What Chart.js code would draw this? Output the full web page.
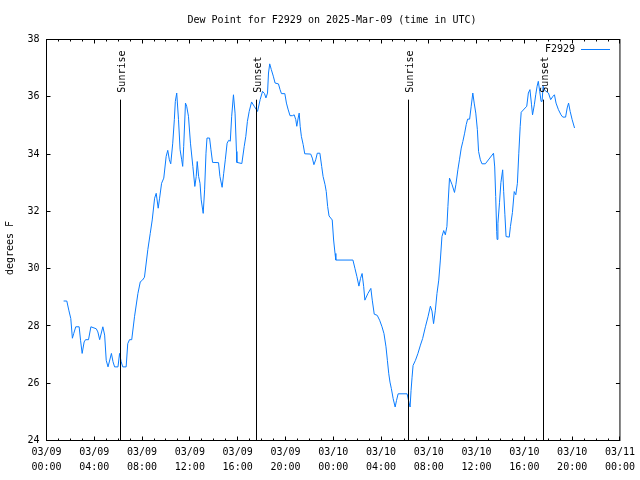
<!DOCTYPE html>
<html>
<head>
<meta charset="utf-8">
<title>Dew Point for F2929</title>
<script src="https://cdn.jsdelivr.net/npm/chart.js@4/dist/chart.umd.min.js"></script>
<style>
    html, body { margin: 0; padding: 0; background: #fff; }
    #wrap { width: 640px; height: 480px; }
</style>
</head>
<body>
<div id="wrap"><canvas id="dewChart" width="640" height="480"></canvas></div>
<script>
// minutes since 03/09 00:00 UTC
const sampleMinutes = [
    86, 102, 112, 122, 130, 137, 147, 164, 171, 179, 189, 196, 211, 223, 250, 258, 267, 283, 292, 300,
    309, 326, 334, 342, 359, 367, 375, 383, 400, 408, 417, 428, 442, 459, 471, 482, 492, 509, 521, 531,
    543, 551, 561, 568, 578, 589, 601, 609, 617, 624, 634, 642, 647, 654, 663, 671, 679, 684, 689, 698,
    704, 713, 723, 735, 745, 752, 757, 764, 771, 777, 787, 794, 801, 806, 819, 826, 834, 864, 871, 882,
    890, 898, 907, 915, 923, 930, 939, 947, 954, 956, 981, 993, 1001, 1009, 1018, 1030, 1043, 1060, 1073, 1085,
    1095, 1102, 1110, 1115, 1121, 1129, 1139, 1148, 1165, 1173, 1180, 1197, 1205, 1213, 1223, 1235, 1244, 1252, 1257, 1264,
    1269, 1274, 1280, 1289, 1297, 1327, 1335, 1343, 1352, 1360, 1373, 1382, 1389, 1399, 1405, 1412, 1419, 1435, 1442, 1449,
    1453, 1539, 1549, 1559, 1569, 1577, 1585, 1593, 1599, 1614, 1629, 1636, 1646, 1661, 1673, 1685, 1695, 1705, 1712, 1719,
    1725, 1732, 1741, 1751, 1758, 1766, 1811, 1820, 1826, 1831, 1836, 1841, 1853, 1865, 1878, 1889, 1903, 1916, 1928, 1936,
    1944, 1953, 1961, 1970, 1978, 1986, 1995, 2003, 2011, 2016, 2024, 2037, 2049, 2056, 2066, 2074, 2083, 2091, 2100, 2108,
    2115, 2125, 2133, 2141, 2148, 2156, 2164, 2170, 2179, 2187, 2204, 2245, 2251, 2256, 2261, 2263, 2267, 2275, 2282, 2291,
    2296, 2302, 2308, 2324, 2330, 2340, 2349, 2357, 2365, 2372, 2379, 2384, 2404, 2412, 2420, 2428, 2436, 2441, 2450, 2457,
    2464, 2470, 2477, 2484, 2489, 2494, 2500, 2509, 2521, 2532, 2544, 2551, 2559, 2571, 2584, 2593, 2607, 2615, 2622, 2630,
    2640, 2652
];

const dewPointF = [
    28.87, 28.87, 28.55, 28.26, 27.57, 27.74, 27.97, 27.97, 27.5, 27.04, 27.44, 27.52, 27.52, 27.97, 27.9, 27.79, 27.52, 27.97, 27.68, 26.8,
    26.57, 27.04, 26.75, 26.57, 26.57, 27.04, 26.75, 26.57, 26.57, 27.38, 27.52, 27.52, 28.32, 29.13, 29.54, 29.6, 29.7, 30.67, 31.23, 31.7,
    32.46, 32.63, 32.11, 32.46, 32.98, 33.16, 33.92, 34.13, 33.8, 33.66, 34.38, 35.2, 35.84, 36.13, 35.2, 34.15, 33.8, 33.57, 34.27, 35.78,
    35.67, 35.32, 34.38, 33.57, 32.87, 33.22, 33.74, 33.22, 32.98, 32.4, 31.93, 32.75, 34.03, 34.56, 34.56, 34.15, 33.71, 33.7, 33.22, 32.84,
    33.33, 33.8, 34.38, 34.48, 34.45, 35.32, 36.07, 35.43, 34.09, 33.71, 33.67, 34.27, 34.62, 35.14, 35.49, 35.82, 35.67, 35.49, 35.9, 36.19,
    36.11, 35.96, 36.13, 36.83, 37.15, 36.95, 36.72, 36.48, 36.45, 36.25, 36.11, 36.11, 35.78, 35.57, 35.34, 35.34, 35.37, 35.2, 34.97, 35.26,
    35.43, 34.97, 34.62, 34.33, 34.01, 34.0, 33.86, 33.63, 33.8, 34.03, 34.03, 33.57, 33.22, 32.93, 32.69, 32.17, 31.84, 31.7, 31.0, 30.53,
    30.3, 30.3, 30.01, 29.72, 29.39, 29.66, 29.83, 29.37, 28.9, 29.13, 29.31, 28.9, 28.41, 28.37, 28.2, 27.97, 27.73, 27.27, 26.8, 26.33,
    26.04, 25.81, 25.46, 25.17, 25.4, 25.63, 25.63, 25.34, 25.17, 25.75, 26.21, 26.62, 26.8, 27.03, 27.33, 27.56, 27.97, 28.32, 28.69, 28.52,
    28.08, 28.55, 29.13, 29.6, 30.3, 31.12, 31.33, 31.18, 31.47, 32.17, 33.16, 32.93, 32.66, 32.93, 33.45, 33.8, 34.21, 34.44, 34.73, 35.03,
    35.22, 35.22, 35.67, 36.13, 35.78, 35.43, 34.85, 34.09, 33.8, 33.66, 33.66, 34.03, 33.55, 32.52, 31.3, 31.02, 31.58, 32.3, 33.0, 33.45,
    32.7, 31.9, 31.12, 31.1, 31.47, 31.96, 32.69, 32.58, 32.98, 34.03, 34.97, 35.46, 35.61, 35.67, 36.13, 36.25, 35.72, 35.37, 35.72, 36.07,
    36.37, 36.54, 36.19, 35.84, 35.84, 36.37, 36.25, 36.19, 36.13, 35.9, 36.02, 36.07, 35.78, 35.55, 35.37, 35.29, 35.29, 35.61, 35.78, 35.49,
    35.2, 34.91
];

const sunEventMinutes = [374, 1055, 1816, 2497];
const sunEventLabels = ['Sunrise', 'Sunset', 'Sunrise', 'Sunset'];
const tickDates = ['03/09', '03/10', '03/11'];

const FONT = '10px "DejaVu Sans Mono", monospace';

// gnuplot-ish frame, mirrored inward ticks, title, legend and sun markers
const framePlugin = {
    id: 'frame',
    afterDatasetsDraw(chart) {
        const ctx = chart.ctx;
        const area = chart.chartArea;
        const xs = chart.scales.x;
        const ys = chart.scales.y;
        const snap = v => Math.round(v - 0.5) + 0.5;

        ctx.save();
        ctx.strokeStyle = '#000';
        ctx.lineWidth = 1;

        // sunrise / sunset markers
        ctx.fillStyle = '#000';
        ctx.font = FONT;
        sunEventMinutes.forEach((m, i) => {
            const x = snap(xs.getPixelForValue(m));
            const yTop = ys.getPixelForValue(35.9);
            ctx.beginPath();
            ctx.moveTo(x, ys.getPixelForValue(24));
            ctx.lineTo(x, yTop);
            ctx.stroke();
            ctx.save();
            ctx.translate(x + 4, yTop - 7);
            ctx.rotate(-Math.PI / 2);
            ctx.textAlign = 'left';
            ctx.textBaseline = 'alphabetic';
            ctx.fillText(sunEventLabels[i], 0, 0);
            ctx.restore();
        });

        // border
        ctx.strokeRect(area.left, area.top, area.right - area.left, area.bottom - area.top);

        // x ticks: major every 4h, minor every hour
        ctx.beginPath();
        for (let m = 0; m <= 2880; m += 60) {
            const x = snap(xs.getPixelForValue(m));
            const len = (m % 240 === 0) ? 4 : 2;
            ctx.moveTo(x, area.bottom);
            ctx.lineTo(x, area.bottom - len);
            ctx.moveTo(x, area.top);
            ctx.lineTo(x, area.top + len);
        }
        // y ticks
        ys.ticks.forEach(t => {
            const y = snap(ys.getPixelForValue(t.value));
            ctx.moveTo(area.left, y);
            ctx.lineTo(area.left + 4, y);
            ctx.moveTo(area.right, y);
            ctx.lineTo(area.right - 4, y);
        });
        ctx.stroke();

        // title
        ctx.textAlign = 'center';
        ctx.textBaseline = 'middle';
        ctx.fillText('Dew Point for F2929 on 2025-Mar-09 (time in UTC)', 332, 20);

        // y axis label
        ctx.save();
        ctx.translate(10, 248);
        ctx.rotate(-Math.PI / 2);
        ctx.fillText('degrees F', 0, 0);
        ctx.restore();

        // legend
        ctx.textAlign = 'right';
        ctx.fillText('F2929', 575, 49);
        ctx.strokeStyle = '#0a7cff';
        ctx.beginPath();
        ctx.moveTo(581, 49.5);
        ctx.lineTo(610, 49.5);
        ctx.stroke();

        ctx.restore();
    }
};

const points = sampleMinutes.map((m, i) => ({ x: m, y: dewPointF[i] }));

new Chart(document.getElementById('dewChart'), {
    type: 'line',
    data: {
        datasets: [{
            label: 'F2929',
            data: points,
            borderColor: '#0a7cff',
            borderWidth: 1,
            pointRadius: 0,
            tension: 0,
            fill: false
        }]
    },
    options: {
        responsive: false,
        animation: false,
        events: [],
        layout: {
            padding: { top: 39.5, right: 18.5, bottom: 0, left: 0 }
        },
        plugins: {
            legend: { display: false },
            title: { display: false },
            tooltip: { enabled: false }
        },
        scales: {
            x: {
                type: 'linear',
                min: 0,
                max: 2880,
                afterFit: s => { s.height = 39.5; },
                border: { display: false },
                grid: { display: false, drawTicks: false },
                ticks: {
                    stepSize: 240,
                    autoSkip: false,
                    maxRotation: 0,
                    padding: 5,
                    color: '#000',
                    font: { family: '"DejaVu Sans Mono", monospace', size: 10, lineHeight: 1.45 },
                    callback: function (value) {
                        const day = tickDates[Math.floor(value / 1440)];
                        const h = Math.floor((value % 1440) / 60);
                        return [day, (h < 10 ? '0' : '') + h + ':00'];
                    }
                }
            },
            y: {
                min: 24,
                max: 38,
                afterFit: s => { s.width = 46.5; },
                border: { display: false },
                grid: { display: false, drawTicks: false },
                ticks: {
                    stepSize: 2,
                    padding: 7,
                    color: '#000',
                    font: { family: '"DejaVu Sans Mono", monospace', size: 10 }
                }
            }
        }
    },
    plugins: [framePlugin]
});
</script>
</body>
</html>
